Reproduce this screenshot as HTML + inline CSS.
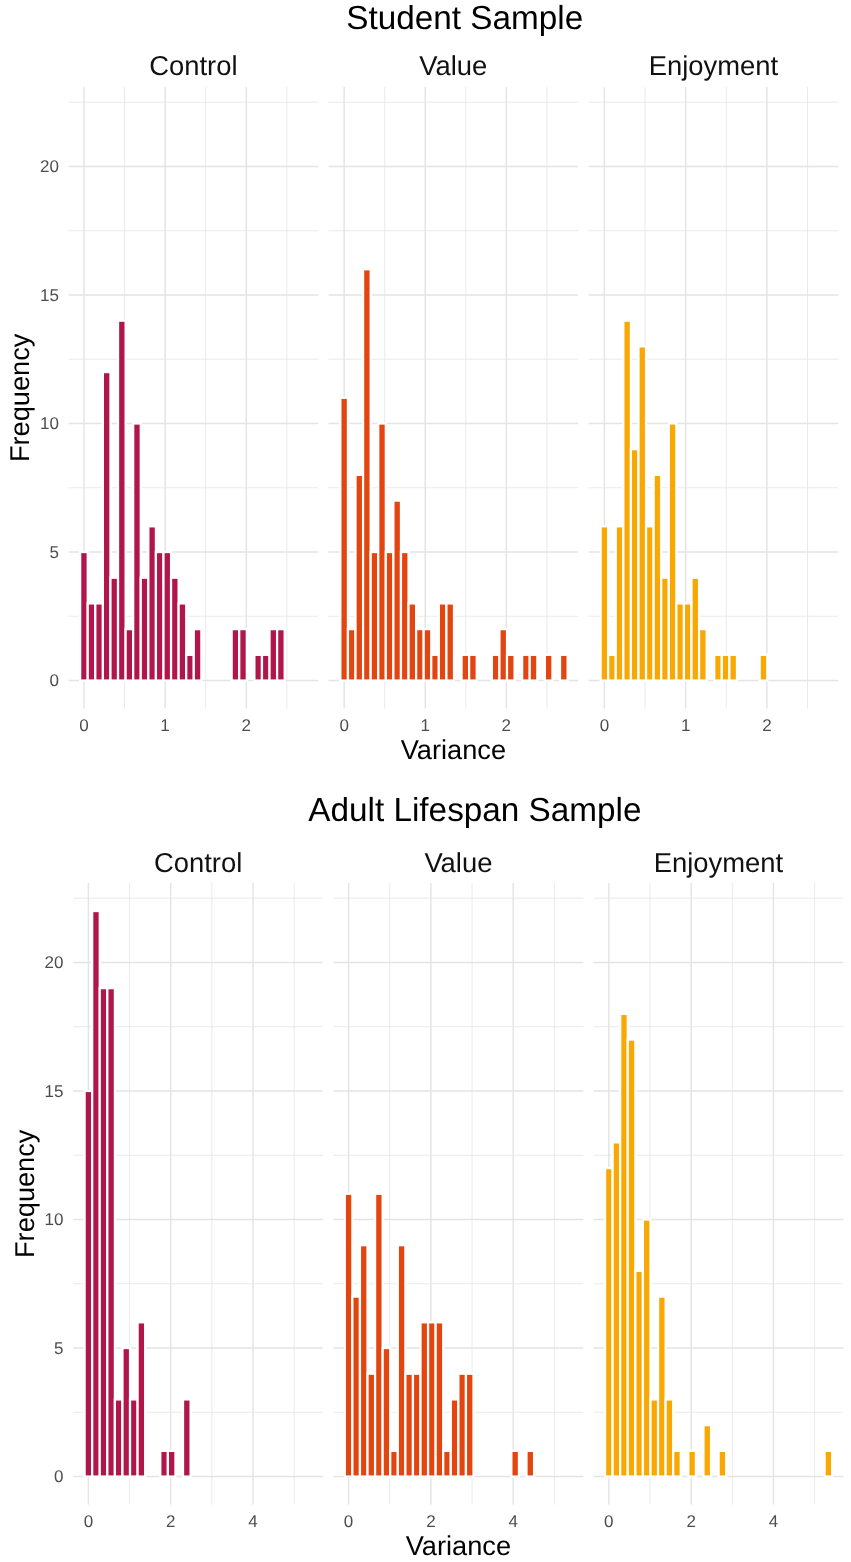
<!DOCTYPE html>
<html lang="en"><head><meta charset="utf-8"><title>Variance histograms</title>
<style>
html,body{margin:0;padding:0;background:#fff}
body{width:851px;height:1562px;overflow:hidden}
svg{display:block;font-family:"Liberation Sans", Arial, Helvetica, sans-serif;text-rendering:geometricPrecision}
.ttl{font-size:33.3px;fill:#000;text-anchor:middle}
.strip{font-size:27.4px;fill:#111;text-anchor:middle}
.axt{font-size:27.2px;fill:#000;text-anchor:middle}
.tk{font-size:17px;fill:#4d4d4d}
.gmaj{stroke:#e4e4e4;stroke-width:1.45;fill:none}
.gmin{stroke:#e6e6e6;stroke-width:0.85;fill:none}
.bars rect{stroke:#fff;stroke-width:2.25}
</style></head><body>
<svg width="851" height="1562" viewBox="0 0 851 1562">
<rect width="851" height="1562" fill="#fff"/>
<text class="ttl" x="464.8" y="29.3">Student Sample</text>
<text class="tk" text-anchor="end" x="58.9" y="686.45">0</text>
<text class="tk" text-anchor="end" x="58.9" y="557.92">5</text>
<text class="tk" text-anchor="end" x="58.9" y="429.4">10</text>
<text class="tk" text-anchor="end" x="58.9" y="300.87">15</text>
<text class="tk" text-anchor="end" x="58.9" y="172.35">20</text>
<text class="axt" transform="translate(29.2 397.85) rotate(-90)" x="0" y="0">Frequency</text>
<text class="axt" x="453.4" y="758.8">Variance</text>
<g><path class="gmin" d="M68.6 616.29H318.2M68.6 487.76H318.2M68.6 359.24H318.2M68.6 230.71H318.2M68.6 102.19H318.2M124.53 87.1V708.6M205.68 87.1V708.6M286.82 87.1V708.6"/><path class="gmaj" d="M68.6 680.55H318.2M68.6 552.02H318.2M68.6 423.5H318.2M68.6 294.97H318.2M68.6 166.45H318.2M83.95 87.1V708.6M165.1 87.1V708.6M246.25 87.1V708.6"/><g class="bars" fill="#B0164A"><rect x="80.16" y="552.02" width="7.58" height="128.52"/><rect x="87.74" y="603.43" width="7.58" height="77.11"/><rect x="95.31" y="603.43" width="7.58" height="77.11"/><rect x="102.89" y="372.09" width="7.58" height="308.46"/><rect x="110.46" y="577.73" width="7.58" height="102.82"/><rect x="118.04" y="320.68" width="7.58" height="359.87"/><rect x="125.61" y="629.14" width="7.58" height="51.41"/><rect x="133.19" y="423.5" width="7.58" height="257.05"/><rect x="140.76" y="577.73" width="7.58" height="102.82"/><rect x="148.34" y="526.32" width="7.58" height="154.23"/><rect x="155.91" y="552.02" width="7.58" height="128.52"/><rect x="163.49" y="552.02" width="7.58" height="128.52"/><rect x="171.06" y="577.73" width="7.58" height="102.82"/><rect x="178.64" y="603.43" width="7.58" height="77.11"/><rect x="186.21" y="654.84" width="7.58" height="25.7"/><rect x="193.79" y="629.14" width="7.58" height="51.41"/><rect x="231.66" y="629.14" width="7.58" height="51.41"/><rect x="239.24" y="629.14" width="7.58" height="51.41"/><rect x="254.39" y="654.84" width="7.58" height="25.7"/><rect x="261.96" y="654.84" width="7.58" height="25.7"/><rect x="269.54" y="629.14" width="7.58" height="51.41"/><rect x="277.11" y="629.14" width="7.58" height="51.41"/></g><text class="strip" x="193.4" y="75">Control</text><text class="tk" text-anchor="middle" x="83.95" y="731.3">0</text><text class="tk" text-anchor="middle" x="165.1" y="731.3">1</text><text class="tk" text-anchor="middle" x="246.25" y="731.3">2</text></g>
<g><path class="gmin" d="M328.5 616.29H578.1M328.5 487.76H578.1M328.5 359.24H578.1M328.5 230.71H578.1M328.5 102.19H578.1M384.7 87.1V708.6M465.8 87.1V708.6M546.9 87.1V708.6"/><path class="gmaj" d="M328.5 680.55H578.1M328.5 552.02H578.1M328.5 423.5H578.1M328.5 294.97H578.1M328.5 166.45H578.1M344.15 87.1V708.6M425.25 87.1V708.6M506.35 87.1V708.6"/><g class="bars" fill="#E2450F"><rect x="340.36" y="397.79" width="7.58" height="282.75"/><rect x="347.94" y="629.14" width="7.58" height="51.41"/><rect x="355.51" y="474.91" width="7.58" height="205.64"/><rect x="363.09" y="269.27" width="7.58" height="411.28"/><rect x="370.66" y="552.02" width="7.58" height="128.52"/><rect x="378.24" y="423.5" width="7.58" height="257.05"/><rect x="385.81" y="552.02" width="7.58" height="128.52"/><rect x="393.39" y="500.61" width="7.58" height="179.94"/><rect x="400.96" y="552.02" width="7.58" height="128.52"/><rect x="408.54" y="603.43" width="7.58" height="77.11"/><rect x="416.11" y="629.14" width="7.58" height="51.41"/><rect x="423.69" y="629.14" width="7.58" height="51.41"/><rect x="431.26" y="654.84" width="7.58" height="25.7"/><rect x="438.84" y="603.43" width="7.58" height="77.11"/><rect x="446.41" y="603.43" width="7.58" height="77.11"/><rect x="461.56" y="654.84" width="7.58" height="25.7"/><rect x="469.14" y="654.84" width="7.58" height="25.7"/><rect x="491.86" y="654.84" width="7.58" height="25.7"/><rect x="499.44" y="629.14" width="7.58" height="51.41"/><rect x="507.01" y="654.84" width="7.58" height="25.7"/><rect x="522.16" y="654.84" width="7.58" height="25.7"/><rect x="529.74" y="654.84" width="7.58" height="25.7"/><rect x="544.89" y="654.84" width="7.58" height="25.7"/><rect x="560.04" y="654.84" width="7.58" height="25.7"/></g><text class="strip" x="453.3" y="75">Value</text><text class="tk" text-anchor="middle" x="344.15" y="731.3">0</text><text class="tk" text-anchor="middle" x="425.25" y="731.3">1</text><text class="tk" text-anchor="middle" x="506.35" y="731.3">2</text></g>
<g><path class="gmin" d="M588.6 616.29H838.2M588.6 487.76H838.2M588.6 359.24H838.2M588.6 230.71H838.2M588.6 102.19H838.2M645.03 87.1V708.6M726.28 87.1V708.6M807.53 87.1V708.6"/><path class="gmaj" d="M588.6 680.55H838.2M588.6 552.02H838.2M588.6 423.5H838.2M588.6 294.97H838.2M588.6 166.45H838.2M604.4 87.1V708.6M685.65 87.1V708.6M766.9 87.1V708.6"/><g class="bars" fill="#F9A703"><rect x="600.61" y="526.32" width="7.58" height="154.23"/><rect x="608.19" y="654.84" width="7.58" height="25.7"/><rect x="615.76" y="526.32" width="7.58" height="154.23"/><rect x="623.34" y="320.68" width="7.58" height="359.87"/><rect x="630.91" y="449.2" width="7.58" height="231.34"/><rect x="638.49" y="346.38" width="7.58" height="334.16"/><rect x="646.06" y="526.32" width="7.58" height="154.23"/><rect x="653.64" y="474.91" width="7.58" height="205.64"/><rect x="661.21" y="577.73" width="7.58" height="102.82"/><rect x="668.79" y="423.5" width="7.58" height="257.05"/><rect x="676.36" y="603.43" width="7.58" height="77.11"/><rect x="683.94" y="603.43" width="7.58" height="77.11"/><rect x="691.51" y="577.73" width="7.58" height="102.82"/><rect x="699.09" y="629.14" width="7.58" height="51.41"/><rect x="714.24" y="654.84" width="7.58" height="25.7"/><rect x="721.81" y="654.84" width="7.58" height="25.7"/><rect x="729.39" y="654.84" width="7.58" height="25.7"/><rect x="759.69" y="654.84" width="7.58" height="25.7"/></g><text class="strip" x="713.4" y="75">Enjoyment</text><text class="tk" text-anchor="middle" x="604.4" y="731.3">0</text><text class="tk" text-anchor="middle" x="685.65" y="731.3">1</text><text class="tk" text-anchor="middle" x="766.9" y="731.3">2</text></g>
<text class="ttl" x="474.9" y="821">Adult Lifespan Sample</text>
<text class="tk" text-anchor="end" x="63.4" y="1482.45">0</text>
<text class="tk" text-anchor="end" x="63.4" y="1353.93">5</text>
<text class="tk" text-anchor="end" x="63.4" y="1225.4">10</text>
<text class="tk" text-anchor="end" x="63.4" y="1096.88">15</text>
<text class="tk" text-anchor="end" x="63.4" y="968.35">20</text>
<text class="axt" transform="translate(33.8 1193.8) rotate(-90)" x="0" y="0">Frequency</text>
<text class="axt" x="458.4" y="1554.9">Variance</text>
<g><path class="gmin" d="M73.2 1412.29H323M73.2 1283.76H323M73.2 1155.24H323M73.2 1026.71H323M73.2 898.19H323M129.55 883V1504.6M211.85 883V1504.6M294.15 883V1504.6"/><path class="gmaj" d="M73.2 1476.55H323M73.2 1348.03H323M73.2 1219.5H323M73.2 1090.97H323M73.2 962.45H323M88.4 883V1504.6M170.7 883V1504.6M253 883V1504.6"/><g class="bars" fill="#B0164A"><rect x="84.61" y="1090.97" width="7.57" height="385.57"/><rect x="92.19" y="911.04" width="7.57" height="565.51"/><rect x="99.75" y="988.15" width="7.57" height="488.39"/><rect x="107.32" y="988.15" width="7.57" height="488.39"/><rect x="114.89" y="1399.43" width="7.57" height="77.11"/><rect x="122.47" y="1348.03" width="7.57" height="128.52"/><rect x="130.03" y="1399.43" width="7.57" height="77.11"/><rect x="137.6" y="1322.32" width="7.57" height="154.23"/><rect x="160.31" y="1450.85" width="7.57" height="25.7"/><rect x="167.89" y="1450.85" width="7.57" height="25.7"/><rect x="183.03" y="1399.43" width="7.57" height="77.11"/></g><text class="strip" x="198.1" y="871.5">Control</text><text class="tk" text-anchor="middle" x="88.4" y="1526.8">0</text><text class="tk" text-anchor="middle" x="170.7" y="1526.8">2</text><text class="tk" text-anchor="middle" x="253" y="1526.8">4</text></g>
<g><path class="gmin" d="M333.5 1412.29H583.3M333.5 1283.76H583.3M333.5 1155.24H583.3M333.5 1026.71H583.3M333.5 898.19H583.3M389.75 883V1504.6M472.05 883V1504.6M554.35 883V1504.6"/><path class="gmaj" d="M333.5 1476.55H583.3M333.5 1348.03H583.3M333.5 1219.5H583.3M333.5 1090.97H583.3M333.5 962.45H583.3M348.6 883V1504.6M430.9 883V1504.6M513.2 883V1504.6"/><g class="bars" fill="#E2450F"><rect x="344.81" y="1193.8" width="7.57" height="282.75"/><rect x="352.38" y="1296.62" width="7.57" height="179.94"/><rect x="359.95" y="1245.2" width="7.57" height="231.34"/><rect x="367.52" y="1373.73" width="7.57" height="102.82"/><rect x="375.09" y="1193.8" width="7.57" height="282.75"/><rect x="382.67" y="1348.03" width="7.57" height="128.52"/><rect x="390.24" y="1450.85" width="7.57" height="25.7"/><rect x="397.81" y="1245.2" width="7.57" height="231.34"/><rect x="405.38" y="1373.73" width="7.57" height="102.82"/><rect x="412.94" y="1373.73" width="7.57" height="102.82"/><rect x="420.51" y="1322.32" width="7.57" height="154.23"/><rect x="428.08" y="1322.32" width="7.57" height="154.23"/><rect x="435.66" y="1322.32" width="7.57" height="154.23"/><rect x="443.22" y="1450.85" width="7.57" height="25.7"/><rect x="450.8" y="1399.43" width="7.57" height="77.11"/><rect x="458.37" y="1373.73" width="7.57" height="102.82"/><rect x="465.94" y="1373.73" width="7.57" height="102.82"/><rect x="511.36" y="1450.85" width="7.57" height="25.7"/><rect x="526.5" y="1450.85" width="7.57" height="25.7"/></g><text class="strip" x="458.4" y="871.5">Value</text><text class="tk" text-anchor="middle" x="348.6" y="1526.8">0</text><text class="tk" text-anchor="middle" x="430.9" y="1526.8">2</text><text class="tk" text-anchor="middle" x="513.2" y="1526.8">4</text></g>
<g><path class="gmin" d="M593.6 1412.29H843.4M593.6 1283.76H843.4M593.6 1155.24H843.4M593.6 1026.71H843.4M593.6 898.19H843.4M650 883V1504.6M732.3 883V1504.6M814.6 883V1504.6"/><path class="gmaj" d="M593.6 1476.55H843.4M593.6 1348.03H843.4M593.6 1219.5H843.4M593.6 1090.97H843.4M593.6 962.45H843.4M608.85 883V1504.6M691.15 883V1504.6M773.45 883V1504.6"/><g class="bars" fill="#F9A703"><rect x="605.07" y="1168.09" width="7.57" height="308.46"/><rect x="612.64" y="1142.38" width="7.57" height="334.16"/><rect x="620.21" y="1013.86" width="7.57" height="462.69"/><rect x="627.78" y="1039.57" width="7.57" height="436.98"/><rect x="635.35" y="1270.91" width="7.57" height="205.64"/><rect x="642.92" y="1219.5" width="7.57" height="257.05"/><rect x="650.49" y="1399.43" width="7.57" height="77.11"/><rect x="658.06" y="1296.62" width="7.57" height="179.94"/><rect x="665.63" y="1399.43" width="7.57" height="77.11"/><rect x="673.2" y="1450.85" width="7.57" height="25.7"/><rect x="688.34" y="1450.85" width="7.57" height="25.7"/><rect x="703.48" y="1425.14" width="7.57" height="51.41"/><rect x="718.62" y="1450.85" width="7.57" height="25.7"/><rect x="824.6" y="1450.85" width="7.57" height="25.7"/></g><text class="strip" x="718.5" y="871.5">Enjoyment</text><text class="tk" text-anchor="middle" x="608.85" y="1526.8">0</text><text class="tk" text-anchor="middle" x="691.15" y="1526.8">2</text><text class="tk" text-anchor="middle" x="773.45" y="1526.8">4</text></g>
</svg>
</body></html>
